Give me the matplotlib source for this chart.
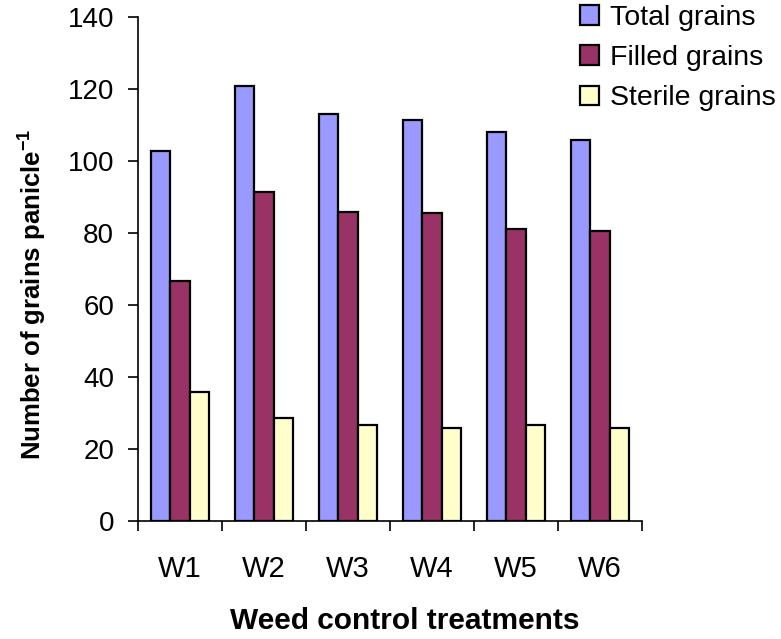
import matplotlib
matplotlib.use("Agg")
import matplotlib.pyplot as plt
import numpy as np

plt.rcParams['font.family'] = ['Liberation Sans', 'DejaVu Sans']
plt.rcParams['mathtext.fontset'] = 'custom'
plt.rcParams['mathtext.rm'] = 'Liberation Sans'
plt.rcParams['mathtext.bf'] = 'Liberation Sans:bold'

treatments = ['W1', 'W2', 'W3', 'W4', 'W5', 'W6']
total_grains = [102.8, 121.0, 113.2, 111.6, 108.2, 106.0]
filled_grains = [66.8, 91.5, 86.0, 85.5, 81.1, 80.5]
sterile_grains = [35.8, 28.6, 26.8, 25.8, 26.8, 25.8]
series_names = ['Total grains', 'Filled grains', 'Sterile grains']
series_colors = ['#9999FF', '#993366', '#FFFFCC']

W, H = 781, 639
fig = plt.figure(figsize=(W / 100, H / 100), dpi=100)
ax = fig.add_axes([138 / W, 1 - 521.3 / H, 504 / W, 504 / H])

x = np.arange(len(treatments))
w = 0.23
handles = []
for i, (vals, name, col) in enumerate(zip([total_grains, filled_grains, sterile_grains],
                                          series_names, series_colors)):
    b = ax.bar(x + (i - 1) * w, vals, width=w, color=col, edgecolor='black',
               linewidth=1.6, label=name, zorder=3)
    handles.append(b)

ax.set_xlim(-0.5, len(treatments) - 0.5)
ax.set_ylim(0, 140)
ax.set_yticks(np.arange(0, 141, 20))
ax.set_xticks(x)
ax.set_xticklabels(treatments)
ax.set_xticks(np.arange(-0.5, len(treatments)), minor=True)
ax.tick_params(axis='x', which='major', length=0, pad=24, labelsize=21)
ax.tick_params(axis='x', which='minor', length=7.5, width=1.2, direction='out')
ax.tick_params(axis='y', length=7.2, width=1.2, direction='out', pad=10, labelsize=20)

for s in ['top', 'right']:
    ax.spines[s].set_visible(False)
for s in ['left', 'bottom']:
    ax.spines[s].set_linewidth(1.2)

fig.text(405 / W, 1 - 629 / H, 'Weed control treatments', fontsize=21.5,
         fontweight='bold', ha='center', va='baseline')
fig.text(32 / W, 1 - 294 / H, r'Number of grains panicle$^{\mathbf{-1}}$', fontsize=18.5,
         fontweight='bold', ha='center', va='center', rotation=90)

fig.legend(handles=handles, labels=series_names, loc='upper left',
           bbox_to_anchor=(580 / W, 1 - 5 / H), frameon=False, fontsize=20.5,
           handlelength=0.68, handleheight=0.68, handletextpad=0.38,
           labelspacing=0.5, borderpad=0, borderaxespad=0)

fig.savefig('out.png', dpi=100)
